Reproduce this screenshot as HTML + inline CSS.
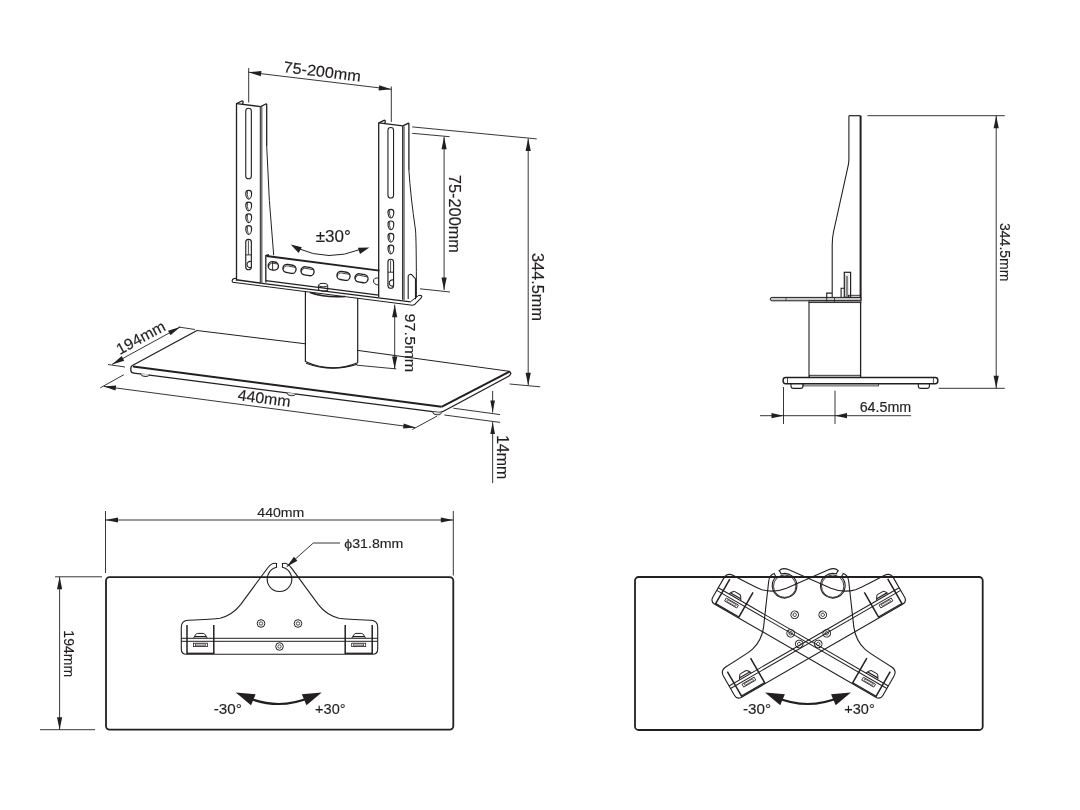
<!DOCTYPE html>
<html><head><meta charset="utf-8"><title>TV stand dimensions</title>
<style>html,body{margin:0;padding:0;background:#fff;width:1080px;height:810px;overflow:hidden}
svg text{font-family:"Liberation Sans",sans-serif} svg{will-change:transform}</style></head>
<body><svg width="1080" height="810" viewBox="0 0 1080 810" style="display:block"><rect x="0" y="0" width="1080" height="810" fill="#fff"/>
<defs><g id="br"><path d="M276.60,563.50 C273.50,562.60 270.50,564.00 267.80,567.70 L240.60,604.60 C235.00,611.80 229.00,616.00 220.00,618.20 C214.00,619.40 205.00,619.70 188.30,620.20 Q181.30,620.50 181.30,627.20 L181.30,649.00 Q181.30,654.30 186.50,654.30 L372.50,654.3 Q377.70,654.30 377.70,649.00 L377.70,627.20 Q377.70,620.50 370.70,620.20 C354.00,619.70 345.00,619.40 339.00,618.20 C330.00,616.00 324.00,611.80 318.40,604.60 L291.20,567.70 C288.50,564.00 285.50,562.60 282.40,563.50 Q282.70,563.9 282.40,567.3 A12.3,12.3 0 1 1 276.6,567.3 Q276.3,563.9 276.6,563.5 Z" fill="none" stroke="#231f20" stroke-width="1.1"/><line x1="181.3" y1="638.3" x2="377.7" y2="638.3" stroke="#231f20" stroke-width="1"/><line x1="181.3" y1="641.3" x2="377.7" y2="641.3" stroke="#231f20" stroke-width="1"/><line x1="187" y1="625" x2="187" y2="654" stroke="#231f20" stroke-width="1.5"/><line x1="213.8" y1="625" x2="213.8" y2="654" stroke="#231f20" stroke-width="1.5"/><line x1="187" y1="653.3" x2="213.8" y2="653.3" stroke="#231f20" stroke-width="1.3"/><path d="M193.6,638 L195.4,635 Q196.4,633.4 197.6,633.4 L203.20000000000002,633.4 Q204.4,633.4 205.4,635 L207.20000000000002,638" fill="none" stroke="#231f20" stroke-width="1"/><line x1="194.6" y1="636.6" x2="206.20000000000002" y2="636.6" stroke="#231f20" stroke-width="1.2"/><rect x="193.4" y="643.2" width="14" height="3.4" fill="none" stroke="#231f20" stroke-width="0.8"/><rect x="195.4" y="644" width="10" height="1.8" fill="none" stroke="#231f20" stroke-width="0.6"/><line x1="345.2" y1="625" x2="345.2" y2="654" stroke="#231f20" stroke-width="1.5"/><line x1="372.2" y1="625" x2="372.2" y2="654" stroke="#231f20" stroke-width="1.5"/><line x1="345.2" y1="653.3" x2="372.2" y2="653.3" stroke="#231f20" stroke-width="1.3"/><path d="M351.9,638 L353.7,635 Q354.7,633.4 355.9,633.4 L361.5,633.4 Q362.7,633.4 363.7,635 L365.5,638" fill="none" stroke="#231f20" stroke-width="1"/><line x1="352.9" y1="636.6" x2="364.5" y2="636.6" stroke="#231f20" stroke-width="1.2"/><rect x="351.7" y="643.2" width="14" height="3.4" fill="none" stroke="#231f20" stroke-width="0.8"/><rect x="353.7" y="644" width="10" height="1.8" fill="none" stroke="#231f20" stroke-width="0.6"/><circle cx="261" cy="623.5" r="3.8" fill="none" stroke="#231f20" stroke-width="1"/><circle cx="261" cy="623.5" r="1.7" fill="none" stroke="#231f20" stroke-width="0.8"/><circle cx="298" cy="623.5" r="3.8" fill="none" stroke="#231f20" stroke-width="1"/><circle cx="298" cy="623.5" r="1.7" fill="none" stroke="#231f20" stroke-width="0.8"/><circle cx="279.5" cy="646.5" r="3.8" fill="none" stroke="#231f20" stroke-width="1"/><circle cx="279.5" cy="646.5" r="1.7" fill="none" stroke="#231f20" stroke-width="0.8"/></g></defs>
<rect x="106" y="577.1" width="347.3" height="152.6" rx="3.6" fill="none" stroke="#231f20" stroke-width="1.8"/>
<use href="#br"/>
<line x1="105.50" y1="511.00" x2="105.50" y2="573.00" stroke="#231f20" stroke-width="0.9"/>
<line x1="453.30" y1="511.00" x2="453.30" y2="575.50" stroke="#231f20" stroke-width="0.9"/>
<line x1="105.50" y1="520.00" x2="453.30" y2="520.00" stroke="#231f20" stroke-width="0.9"/>
<polygon points="105.50,520.00 118.00,522.60 118.00,517.40" fill="#231f20" stroke="none" stroke-width="1"/>
<polygon points="453.30,520.00 440.80,517.40 440.80,522.60" fill="#231f20" stroke="none" stroke-width="1"/>
<text transform="translate(280.80,512.20) rotate(0.00) scale(1.045,1)" text-anchor="middle" dominant-baseline="central" font-size="13.5" fill="#231f20" stroke="#231f20" stroke-width="0.15" >440mm</text>
<line x1="55.00" y1="576.80" x2="102.00" y2="576.80" stroke="#231f20" stroke-width="0.9"/>
<line x1="40.00" y1="729.70" x2="95.00" y2="729.70" stroke="#231f20" stroke-width="0.9"/>
<line x1="59.60" y1="576.80" x2="59.60" y2="729.70" stroke="#231f20" stroke-width="0.9"/>
<polygon points="59.60,576.80 57.00,589.30 62.20,589.30" fill="#231f20" stroke="none" stroke-width="1"/>
<polygon points="59.60,729.70 62.20,717.20 57.00,717.20" fill="#231f20" stroke="none" stroke-width="1"/>
<text transform="translate(69.00,653.70) rotate(90.00) scale(1.000,1)" text-anchor="middle" dominant-baseline="central" font-size="14" fill="#231f20" stroke="#231f20" stroke-width="0.15" >194mm</text>
<line x1="286.70" y1="566.70" x2="313.30" y2="543.00" stroke="#231f20" stroke-width="0.9"/>
<line x1="313.30" y1="543.00" x2="340.00" y2="543.00" stroke="#231f20" stroke-width="0.9"/>
<polygon points="286.70,566.70 297.39,560.66 293.93,556.78" fill="#231f20" stroke="none" stroke-width="1"/>
<text transform="translate(344.30,543.00) rotate(0.00) scale(1.050,1)" text-anchor="start" dominant-baseline="central" font-size="13.5" fill="#231f20" stroke="#231f20" stroke-width="0.15" >&#981;31.8mm</text>
<path d="M246,697 Q278.5,711 311,697" fill="none" stroke="#231f20" stroke-width="2.2" />
<polygon points="235.80,692.50 251.03,705.35 255.65,694.27" fill="#231f20" stroke="none" stroke-width="1"/>
<polygon points="321.70,692.50 301.85,694.27 306.47,705.35" fill="#231f20" stroke="none" stroke-width="1"/>
<text transform="translate(227.80,709.00) rotate(0.00) scale(1.050,1)" text-anchor="middle" dominant-baseline="central" font-size="14.5" fill="#231f20" stroke="#231f20" stroke-width="0.15" >-30&#176;</text>
<text transform="translate(330.30,709.00) rotate(0.00) scale(1.000,1)" text-anchor="middle" dominant-baseline="central" font-size="14.5" fill="#231f20" stroke="#231f20" stroke-width="0.15" >+30&#176;</text>
<rect x="635" y="577" width="347.7" height="153" rx="3.6" fill="none" stroke="#231f20" stroke-width="1.8"/>
<use href="#br" transform="translate(529.2,0) rotate(30,279.5,627.5)"/>
<use href="#br" transform="translate(529.2,0) rotate(-30,279.5,627.5)"/>
<path d="M775.2,697 Q807.7,711 840.2,697" fill="none" stroke="#231f20" stroke-width="2.2" />
<polygon points="765.00,692.50 780.23,705.35 784.85,694.27" fill="#231f20" stroke="none" stroke-width="1"/>
<polygon points="850.90,692.50 831.05,694.27 835.67,705.35" fill="#231f20" stroke="none" stroke-width="1"/>
<text transform="translate(757.00,709.00) rotate(0.00) scale(1.050,1)" text-anchor="middle" dominant-baseline="central" font-size="14.5" fill="#231f20" stroke="#231f20" stroke-width="0.15" >-30&#176;</text>
<text transform="translate(859.50,709.00) rotate(0.00) scale(1.000,1)" text-anchor="middle" dominant-baseline="central" font-size="14.5" fill="#231f20" stroke="#231f20" stroke-width="0.15" >+30&#176;</text>
<circle cx="784.7" cy="586.2" r="11.2" fill="none" stroke="#231f20" stroke-width="0.9"/>
<circle cx="832.7" cy="586.2" r="11.2" fill="none" stroke="#231f20" stroke-width="0.9"/>
<line x1="197.00" y1="330.50" x2="305.40" y2="343.80" stroke="#231f20" stroke-width="1"/>
<line x1="357.70" y1="350.40" x2="508.50" y2="371.20" stroke="#231f20" stroke-width="1"/>
<path d="M197,330.5 L132.4,365.5 Q130.8,366.4 130.8,368.2 L130.9,370.8 Q131.2,372.7 134,373.1 L436.5,412.2 Q440.5,412.8 443.5,411.2 L508.6,376.2 Q511.5,374.2 510.5,372.7 Q509.8,371.3 508.5,371.2" fill="none" stroke="#231f20" stroke-width="1.3" />
<line x1="133.00" y1="366.50" x2="441.50" y2="406.80" stroke="#231f20" stroke-width="2.0"/>
<line x1="441.50" y1="406.80" x2="509.50" y2="371.60" stroke="#231f20" stroke-width="2.0"/>
<path d="M140.4,373.34639999999996 Q141,376.5464 145,376.5464 Q149,376.9464 149.6,374.5464" fill="#ddd" stroke="#231f20" stroke-width="0.9" />
<path d="M286.7,392.54096 Q287.3,395.74096000000003 291.3,395.74096000000003 Q295.3,396.14096 295.90000000000003,393.74096000000003" fill="#ddd" stroke="#231f20" stroke-width="0.9" />
<path d="M432.4,411.6568 Q433,414.8568 437,414.8568 Q441,415.2568 441.6,412.8568" fill="#ddd" stroke="#231f20" stroke-width="0.9" />
<path d="M305.4,291.5 L305.4,361.5 Q331.5,373.5 357.7,362.7 L357.7,298" fill="none" stroke="#231f20" stroke-width="1.2" />
<path d="M306,363.2 Q331.5,372.5 357.2,364.3" fill="none" stroke="#231f20" stroke-width="1.2" />
<path d="M310,292.5 Q325,297.8 345,296.5" fill="none" stroke="#231f20" stroke-width="1.6" />
<path d="M236.5,278.3 L234,278.6 Q231.8,279.2 232.2,281.3 L232.8,282.3 L410.5,305 Q413,305.6 415,304.2 L420.5,298.6 Q422.5,296.5 421.3,295.6 L419,295.2" fill="none" stroke="#231f20" stroke-width="1.1" />
<line x1="236.00" y1="279.80" x2="262.00" y2="283.30" stroke="#231f20" stroke-width="1.6"/>
<line x1="262.00" y1="283.40" x2="410.70" y2="301.90" stroke="#231f20" stroke-width="1.1"/>
<line x1="265.80" y1="280.60" x2="378.70" y2="295.10" stroke="#231f20" stroke-width="1.1"/>
<line x1="410.70" y1="301.60" x2="419.00" y2="295.20" stroke="#231f20" stroke-width="1"/>
<path d="M318.6,285 L318.6,290 Q323,292.3 327.7,290.5 L327.7,285.4" fill="none" stroke="#231f20" stroke-width="1" />
<ellipse cx="323.1" cy="285.1" rx="4.5" ry="1.8" fill="none" stroke="#231f20" stroke-width="1"/>
<line x1="266.50" y1="256.00" x2="379.40" y2="270.60" stroke="#231f20" stroke-width="1.8"/>
<path d="M265.8,282.6 L265.8,255.5 L268.3,254.8 L268.3,257" fill="none" stroke="#231f20" stroke-width="1.3" />
<g transform="translate(289.50,268.85) rotate(10.03)"><rect x="-6.60" y="-4.1" width="13.20" height="8.2" rx="4.1" fill="none" stroke="#231f20" stroke-width="1.35"/><path d="M-6.00,1.5 Q-5.80,-2.6 -2.10,-2.6 L5.60,-2.4" fill="none" stroke="#231f20" stroke-width="0.8"/></g>
<g transform="translate(307.50,271.25) rotate(9.18)"><rect x="-6.58" y="-4.1" width="13.17" height="8.2" rx="4.1" fill="none" stroke="#231f20" stroke-width="1.35"/><path d="M-5.98,1.5 Q-5.78,-2.6 -2.08,-2.6 L5.58,-2.4" fill="none" stroke="#231f20" stroke-width="0.8"/></g>
<g transform="translate(343.50,275.90) rotate(9.61)"><rect x="-6.59" y="-4.1" width="13.18" height="8.2" rx="4.1" fill="none" stroke="#231f20" stroke-width="1.35"/><path d="M-5.99,1.5 Q-5.79,-2.6 -2.09,-2.6 L5.59,-2.4" fill="none" stroke="#231f20" stroke-width="0.8"/></g>
<g transform="translate(361.50,278.30) rotate(9.61)"><rect x="-6.59" y="-4.1" width="13.18" height="8.2" rx="4.1" fill="none" stroke="#231f20" stroke-width="1.35"/><path d="M-5.99,1.5 Q-5.79,-2.6 -2.09,-2.6 L5.59,-2.4" fill="none" stroke="#231f20" stroke-width="0.8"/></g>
<g transform="translate(273.30,265.95) rotate(7.26)"><rect x="-5.14" y="-4.1" width="10.28" height="8.2" rx="4.1" fill="none" stroke="#231f20" stroke-width="1.35"/><path d="M-4.54,1.5 Q-4.34,-2.6 -0.64,-2.6 L4.14,-2.4" fill="none" stroke="#231f20" stroke-width="0.8"/></g>
<line x1="272.60" y1="261.60" x2="272.60" y2="270.30" stroke="#231f20" stroke-width="0.9"/>
<path d="M378.5,278 Q373.5,277.5 373.5,281 Q373.5,284.5 378.5,285" fill="none" stroke="#231f20" stroke-width="1" />
<path d="M236.5,280.6 L236.5,103.6 L241.8,101.0 Q243.2,100.69999999999999 243.0,102.3 L242.6,104.19999999999999" fill="none" stroke="#231f20" stroke-width="1.3" />
<line x1="236.80" y1="103.60" x2="260.60" y2="106.60" stroke="#231f20" stroke-width="1.4"/>
<path d="M260.6,106.6 L265.8,104.0 Q266.7,103.69999999999999 266.7,104.8 L266.7,146" fill="none" stroke="#231f20" stroke-width="1.3" />
<line x1="260.40" y1="106.60" x2="260.40" y2="283.40" stroke="#231f20" stroke-width="1.2"/>
<line x1="261.80" y1="106.90" x2="261.80" y2="283.50" stroke="#231f20" stroke-width="1.0"/>
<line x1="261.1" y1="106.89999999999999" x2="261.1" y2="283.40000000000003" stroke="#888" stroke-width="1"/>
<path d="M266.7,146 Q268.5,200 273.7,255.3" fill="none" stroke="#231f20" stroke-width="1.0" />
<rect x="245.75" y="108.19999999999999" width="5.6" height="70.60000000000002" rx="2.8" fill="none" stroke="#231f20" stroke-width="1.1"/>
<path d="M245.79999999999998,193.2 C245.79999999999998,189.5 251.6,189.5 251.6,193.2 C251.6,196.4 250.29999999999998,199.1 248.7,199.1 C247.1,199.1 245.79999999999998,196.4 245.79999999999998,193.2 Z" fill="none" stroke="#231f20" stroke-width="1.15" />
<path d="M247.5,191.4 Q246.7,195.1 248.29999999999998,198.2" fill="none" stroke="#231f20" stroke-width="0.8" />
<path d="M245.79999999999998,204.9 C245.79999999999998,201.20000000000002 251.6,201.20000000000002 251.6,204.9 C251.6,208.10000000000002 250.29999999999998,210.8 248.7,210.8 C247.1,210.8 245.79999999999998,208.10000000000002 245.79999999999998,204.9 Z" fill="none" stroke="#231f20" stroke-width="1.15" />
<path d="M247.5,203.10000000000002 Q246.7,206.8 248.29999999999998,209.9" fill="none" stroke="#231f20" stroke-width="0.8" />
<path d="M245.79999999999998,216.7 C245.79999999999998,213.0 251.6,213.0 251.6,216.7 C251.6,219.9 250.29999999999998,222.6 248.7,222.6 C247.1,222.6 245.79999999999998,219.9 245.79999999999998,216.7 Z" fill="none" stroke="#231f20" stroke-width="1.15" />
<path d="M247.5,214.9 Q246.7,218.6 248.29999999999998,221.7" fill="none" stroke="#231f20" stroke-width="0.8" />
<path d="M245.79999999999998,228.4 C245.79999999999998,224.70000000000002 251.6,224.70000000000002 251.6,228.4 C251.6,231.60000000000002 250.29999999999998,234.3 248.7,234.3 C247.1,234.3 245.79999999999998,231.60000000000002 245.79999999999998,228.4 Z" fill="none" stroke="#231f20" stroke-width="1.15" />
<path d="M247.5,226.60000000000002 Q246.7,230.3 248.29999999999998,233.4" fill="none" stroke="#231f20" stroke-width="0.8" />
<rect x="245.75" y="239.3" width="5.6" height="30.399999999999977" rx="2.8" fill="none" stroke="#231f20" stroke-width="1.15"/>
<line x1="248.40" y1="240.50" x2="248.40" y2="254.90" stroke="#231f20" stroke-width="0.8"/>
<line x1="245.75" y1="254.90" x2="251.35" y2="254.90" stroke="#231f20" stroke-width="0.9"/>
<path d="M250.89999999999998,261.5 A3.1,3.1 0 1 0 251.2,267.4" fill="none" stroke="#231f20" stroke-width="1.1"/>
<path d="M378.7,297 L378.7,122.9 L384.0,120.30000000000001 Q385.4,120.0 385.2,121.60000000000001 L384.8,123.5" fill="none" stroke="#231f20" stroke-width="1.3" />
<line x1="379.00" y1="122.90" x2="402.80" y2="125.90" stroke="#231f20" stroke-width="1.4"/>
<path d="M402.8,125.9 L408.0,123.30000000000001 Q408.9,123.0 408.9,124.10000000000001 L408.9,170" fill="none" stroke="#231f20" stroke-width="1.3" />
<line x1="402.60" y1="125.90" x2="402.60" y2="299.80" stroke="#231f20" stroke-width="1.2"/>
<line x1="404.00" y1="126.20" x2="404.00" y2="299.90" stroke="#231f20" stroke-width="1.0"/>
<line x1="403.3" y1="126.2" x2="403.3" y2="299.8" stroke="#888" stroke-width="1"/>
<path d="M408.9,170 Q410.5,196 415.5,230 Q416.4,240 416.4,297.5" fill="none" stroke="#231f20" stroke-width="1.0" />
<rect x="387.95" y="127.5" width="5.6" height="70.5" rx="2.8" fill="none" stroke="#231f20" stroke-width="1.1"/>
<path d="M388.0,212.1 C388.0,208.4 393.79999999999995,208.4 393.79999999999995,212.1 C393.79999999999995,215.3 392.5,218.0 390.9,218.0 C389.29999999999995,218.0 388.0,215.3 388.0,212.1 Z" fill="none" stroke="#231f20" stroke-width="1.15" />
<path d="M389.7,210.3 Q388.9,214.0 390.5,217.1" fill="none" stroke="#231f20" stroke-width="0.8" />
<path d="M388.0,223.79999999999998 C388.0,220.1 393.79999999999995,220.1 393.79999999999995,223.79999999999998 C393.79999999999995,227.0 392.5,229.7 390.9,229.7 C389.29999999999995,229.7 388.0,227.0 388.0,223.79999999999998 Z" fill="none" stroke="#231f20" stroke-width="1.15" />
<path d="M389.7,222.0 Q388.9,225.7 390.5,228.79999999999998" fill="none" stroke="#231f20" stroke-width="0.8" />
<path d="M388.0,236.2 C388.0,232.5 393.79999999999995,232.5 393.79999999999995,236.2 C393.79999999999995,239.4 392.5,242.1 390.9,242.1 C389.29999999999995,242.1 388.0,239.4 388.0,236.2 Z" fill="none" stroke="#231f20" stroke-width="1.15" />
<path d="M389.7,234.4 Q388.9,238.1 390.5,241.2" fill="none" stroke="#231f20" stroke-width="0.8" />
<path d="M388.0,247.9 C388.0,244.20000000000002 393.79999999999995,244.20000000000002 393.79999999999995,247.9 C393.79999999999995,251.10000000000002 392.5,253.8 390.9,253.8 C389.29999999999995,253.8 388.0,251.10000000000002 388.0,247.9 Z" fill="none" stroke="#231f20" stroke-width="1.15" />
<path d="M389.7,246.10000000000002 Q388.9,249.8 390.5,252.9" fill="none" stroke="#231f20" stroke-width="0.8" />
<rect x="387.95" y="259.2" width="5.6" height="29.0" rx="2.8" fill="none" stroke="#231f20" stroke-width="1.15"/>
<line x1="390.60" y1="260.40" x2="390.60" y2="272.20" stroke="#231f20" stroke-width="0.8"/>
<line x1="387.95" y1="272.20" x2="393.55" y2="272.20" stroke="#231f20" stroke-width="0.9"/>
<path d="M393.09999999999997,280.0 A3.1,3.1 0 1 0 393.4,285.9" fill="none" stroke="#231f20" stroke-width="1.1"/>
<path d="M408.2,299 L408.2,276 Q409.5,273.6 411.5,274.5 L415.5,279 L415.5,299.3" fill="none" stroke="#231f20" stroke-width="1.1" />
<path d="M298,248.5 Q329,262 360,249.5" fill="none" stroke="#231f20" stroke-width="1" />
<polygon points="290.70,244.60 298.60,252.93 301.89,247.20" fill="#231f20" stroke="none" stroke-width="1"/>
<polygon points="369.40,247.40 357.92,247.72 359.99,253.98" fill="#231f20" stroke="none" stroke-width="1"/>
<text transform="translate(333.30,236.80) rotate(0.00) scale(1.034,1)" text-anchor="middle" dominant-baseline="central" font-size="16.5" fill="#231f20" stroke="#231f20" stroke-width="0.15" >&#177;30&#176;</text>
<line x1="248.70" y1="68.00" x2="248.70" y2="102.50" stroke="#231f20" stroke-width="0.9"/>
<line x1="391.30" y1="86.50" x2="391.30" y2="122.00" stroke="#231f20" stroke-width="0.9"/>
<line x1="248.70" y1="72.20" x2="391.30" y2="89.30" stroke="#231f20" stroke-width="0.9"/>
<polygon points="248.70,72.20 260.80,76.27 261.42,71.11" fill="#231f20" stroke="none" stroke-width="1"/>
<polygon points="391.30,89.30 379.20,85.23 378.58,90.39" fill="#231f20" stroke="none" stroke-width="1"/>
<text transform="translate(322.30,71.50) rotate(7.10) scale(1.050,1)" text-anchor="middle" dominant-baseline="central" font-size="15.5" fill="#231f20" stroke="#231f20" stroke-width="0.15" >75-200mm</text>
<line x1="412.20" y1="133.30" x2="449.60" y2="136.70" stroke="#231f20" stroke-width="0.9"/>
<line x1="420.00" y1="288.80" x2="450.00" y2="292.00" stroke="#231f20" stroke-width="0.9"/>
<line x1="444.10" y1="136.70" x2="444.10" y2="290.00" stroke="#231f20" stroke-width="0.9"/>
<polygon points="444.10,136.70 441.50,149.20 446.70,149.20" fill="#231f20" stroke="none" stroke-width="1"/>
<polygon points="444.10,290.00 446.70,277.50 441.50,277.50" fill="#231f20" stroke="none" stroke-width="1"/>
<text transform="translate(455.00,213.90) rotate(90.00) scale(1.020,1)" text-anchor="middle" dominant-baseline="central" font-size="16" fill="#231f20" stroke="#231f20" stroke-width="0.15" >75-200mm</text>
<line x1="412.20" y1="126.90" x2="536.70" y2="138.90" stroke="#231f20" stroke-width="0.9"/>
<line x1="509.60" y1="384.00" x2="540.20" y2="386.80" stroke="#231f20" stroke-width="0.9"/>
<line x1="528.20" y1="138.60" x2="528.20" y2="385.30" stroke="#231f20" stroke-width="0.9"/>
<polygon points="528.20,138.60 525.60,151.10 530.80,151.10" fill="#231f20" stroke="none" stroke-width="1"/>
<polygon points="528.20,385.30 530.80,372.80 525.60,372.80" fill="#231f20" stroke="none" stroke-width="1"/>
<text transform="translate(538.20,287.00) rotate(90.00) scale(1.020,1)" text-anchor="middle" dominant-baseline="central" font-size="16" fill="#231f20" stroke="#231f20" stroke-width="0.15" >344.5mm</text>
<line x1="356.70" y1="365.20" x2="396.20" y2="368.90" stroke="#231f20" stroke-width="0.9"/>
<line x1="394.70" y1="304.70" x2="394.70" y2="368.90" stroke="#231f20" stroke-width="0.9"/>
<polygon points="394.70,304.70 392.10,317.20 397.30,317.20" fill="#231f20" stroke="none" stroke-width="1"/>
<polygon points="394.70,368.90 397.30,356.40 392.10,356.40" fill="#231f20" stroke="none" stroke-width="1"/>
<text transform="translate(410.70,342.90) rotate(90.00) scale(1.050,1)" text-anchor="middle" dominant-baseline="central" font-size="15.5" fill="#231f20" stroke="#231f20" stroke-width="0.15" >97.5mm</text>
<line x1="108.00" y1="364.50" x2="125.00" y2="367.00" stroke="#231f20" stroke-width="0.9"/>
<line x1="178.50" y1="327.00" x2="195.00" y2="329.50" stroke="#231f20" stroke-width="0.9"/>
<line x1="112.00" y1="364.40" x2="180.20" y2="327.00" stroke="#231f20" stroke-width="0.9"/>
<polygon points="112.00,364.40 124.21,360.67 121.71,356.11" fill="#231f20" stroke="none" stroke-width="1"/>
<polygon points="180.20,327.00 167.99,330.73 170.49,335.29" fill="#231f20" stroke="none" stroke-width="1"/>
<text transform="translate(140.60,337.50) rotate(-28.50) scale(1.030,1)" text-anchor="middle" dominant-baseline="central" font-size="15.5" fill="#231f20" stroke="#231f20" stroke-width="0.15" >194mm</text>
<line x1="100.30" y1="387.80" x2="123.90" y2="374.70" stroke="#231f20" stroke-width="0.9"/>
<line x1="412.30" y1="429.50" x2="437.00" y2="416.10" stroke="#231f20" stroke-width="0.9"/>
<line x1="103.90" y1="386.40" x2="415.30" y2="427.50" stroke="#231f20" stroke-width="0.9"/>
<polygon points="103.90,386.40 115.47,390.45 116.12,385.49" fill="#231f20" stroke="none" stroke-width="1"/>
<polygon points="415.30,427.50 403.73,423.45 403.08,428.41" fill="#231f20" stroke="none" stroke-width="1"/>
<text transform="translate(264.30,398.20) rotate(7.60) scale(1.030,1)" text-anchor="middle" dominant-baseline="central" font-size="15.5" fill="#231f20" stroke="#231f20" stroke-width="0.15" >440mm</text>
<line x1="453.30" y1="408.20" x2="500.10" y2="414.60" stroke="#231f20" stroke-width="0.9"/>
<line x1="444.40" y1="415.00" x2="500.10" y2="422.40" stroke="#231f20" stroke-width="0.9"/>
<line x1="492.65" y1="390.90" x2="492.65" y2="412.60" stroke="#231f20" stroke-width="0.9"/>
<polygon points="492.65,412.60 494.95,400.60 490.35,400.60" fill="#231f20" stroke="none" stroke-width="1"/>
<line x1="492.65" y1="422.10" x2="492.65" y2="483.20" stroke="#231f20" stroke-width="0.9"/>
<polygon points="492.65,422.10 490.35,434.10 494.95,434.10" fill="#231f20" stroke="none" stroke-width="1"/>
<text transform="translate(502.50,457.10) rotate(90.00) scale(1.000,1)" text-anchor="middle" dominant-baseline="central" font-size="16" fill="#231f20" stroke="#231f20" stroke-width="0.15" >14mm</text>
<path d="M848.9,115.7 L860.6,115.7" fill="none" stroke="#231f20" stroke-width="1.2" />
<path d="M848.9,115.7 L848.9,159.3 Q848.9,163 848,166.5 L833.5,232 Q832.2,238 832.2,245 L832.2,297.6" fill="none" stroke="#231f20" stroke-width="1.1" />
<line x1="860.60" y1="115.70" x2="860.60" y2="300.50" stroke="#231f20" stroke-width="2.0"/>
<rect x="844.3" y="272.3" width="6.3" height="25" fill="none" stroke="#231f20" stroke-width="1.2"/>
<rect x="845.6" y="274.2" width="2.6" height="23" fill="#888" stroke="none"/>
<circle cx="846.9" cy="275" r="1.1" fill="#fff" stroke="none"/>
<path d="M841.1,297.3 L841.1,288.2 L844.3,288.2" fill="none" stroke="#231f20" stroke-width="1.1" />
<path d="M826.7,297.3 L826.7,293.1 L832.2,293.1" fill="none" stroke="#231f20" stroke-width="1.1" />
<rect x="848.4" y="295.3" width="12.2" height="2" fill="none" stroke="#231f20" stroke-width="0.9"/>
<path d="M860.9,297.4 L772,297.4 Q770.2,297.4 770.2,299.1 Q770.2,300.8 772,300.8 L860.9,300.8 Z" fill="#c8c8c8" stroke="#231f20" stroke-width="1.0" />
<line x1="786.00" y1="297.80" x2="786.00" y2="300.50" stroke="#231f20" stroke-width="0.7"/>
<rect x="809" y="300.8" width="51.9" height="1.8" fill="#aaa" stroke="#231f20" stroke-width="0.9"/>
<line x1="826.70" y1="297.40" x2="826.70" y2="301.50" stroke="#231f20" stroke-width="0.9"/>
<line x1="834.50" y1="297.40" x2="834.50" y2="302.60" stroke="#231f20" stroke-width="0.8"/>
<line x1="809.00" y1="302.20" x2="809.00" y2="377.20" stroke="#231f20" stroke-width="1.1"/>
<line x1="860.60" y1="302.20" x2="860.60" y2="377.20" stroke="#231f20" stroke-width="1.3"/>
<rect x="809.5" y="375.3" width="51" height="2" fill="none" stroke="#231f20" stroke-width="0.9"/>
<rect x="783.1" y="377.4" width="154.7" height="6.3" rx="2.6" fill="none" stroke="#231f20" stroke-width="1.5"/>
<line x1="787.50" y1="377.60" x2="787.50" y2="383.50" stroke="#231f20" stroke-width="0.8"/>
<line x1="933.40" y1="377.60" x2="933.40" y2="383.50" stroke="#231f20" stroke-width="0.8"/>
<path d="M791,383.7 L791,386 Q791,388.4 793.5,388.4 L800.5,388.4 Q803,388.4 803,386 L803,383.7" fill="none" stroke="#231f20" stroke-width="1.1" />
<path d="M918.3,383.7 L918.3,386 Q918.3,388.4 920.8,388.4 L926.9,388.4 Q929.4,388.4 929.4,386 L929.4,383.7" fill="none" stroke="#231f20" stroke-width="1.1" />
<rect x="803" y="383.7" width="75.5" height="2.2" fill="none" stroke="#231f20" stroke-width="0.8"/>
<line x1="867.40" y1="115.70" x2="1004.80" y2="115.70" stroke="#231f20" stroke-width="0.9"/>
<line x1="938.70" y1="388.30" x2="1004.80" y2="388.30" stroke="#231f20" stroke-width="0.9"/>
<line x1="996.20" y1="115.70" x2="996.20" y2="388.20" stroke="#231f20" stroke-width="0.9"/>
<polygon points="996.20,115.70 993.60,128.20 998.80,128.20" fill="#231f20" stroke="none" stroke-width="1"/>
<polygon points="996.20,388.20 998.80,375.70 993.60,375.70" fill="#231f20" stroke="none" stroke-width="1"/>
<text transform="translate(1005.40,252.20) rotate(90.00) scale(1.000,1)" text-anchor="middle" dominant-baseline="central" font-size="14" fill="#231f20" stroke="#231f20" stroke-width="0.15" >344.5mm</text>
<line x1="783.50" y1="387.00" x2="783.50" y2="424.00" stroke="#231f20" stroke-width="0.9"/>
<line x1="835.00" y1="390.70" x2="835.00" y2="424.00" stroke="#231f20" stroke-width="0.9"/>
<line x1="760.00" y1="415.70" x2="911.10" y2="415.70" stroke="#231f20" stroke-width="0.9"/>
<polygon points="783.50,415.70 771.50,413.10 771.50,418.30" fill="#231f20" stroke="none" stroke-width="1"/>
<polygon points="835.00,415.70 847.00,418.30 847.00,413.10" fill="#231f20" stroke="none" stroke-width="1"/>
<text transform="translate(885.40,407.10) rotate(0.00) scale(1.020,1)" text-anchor="middle" dominant-baseline="central" font-size="14" fill="#231f20" stroke="#231f20" stroke-width="0.15" >64.5mm</text></svg></body></html>
